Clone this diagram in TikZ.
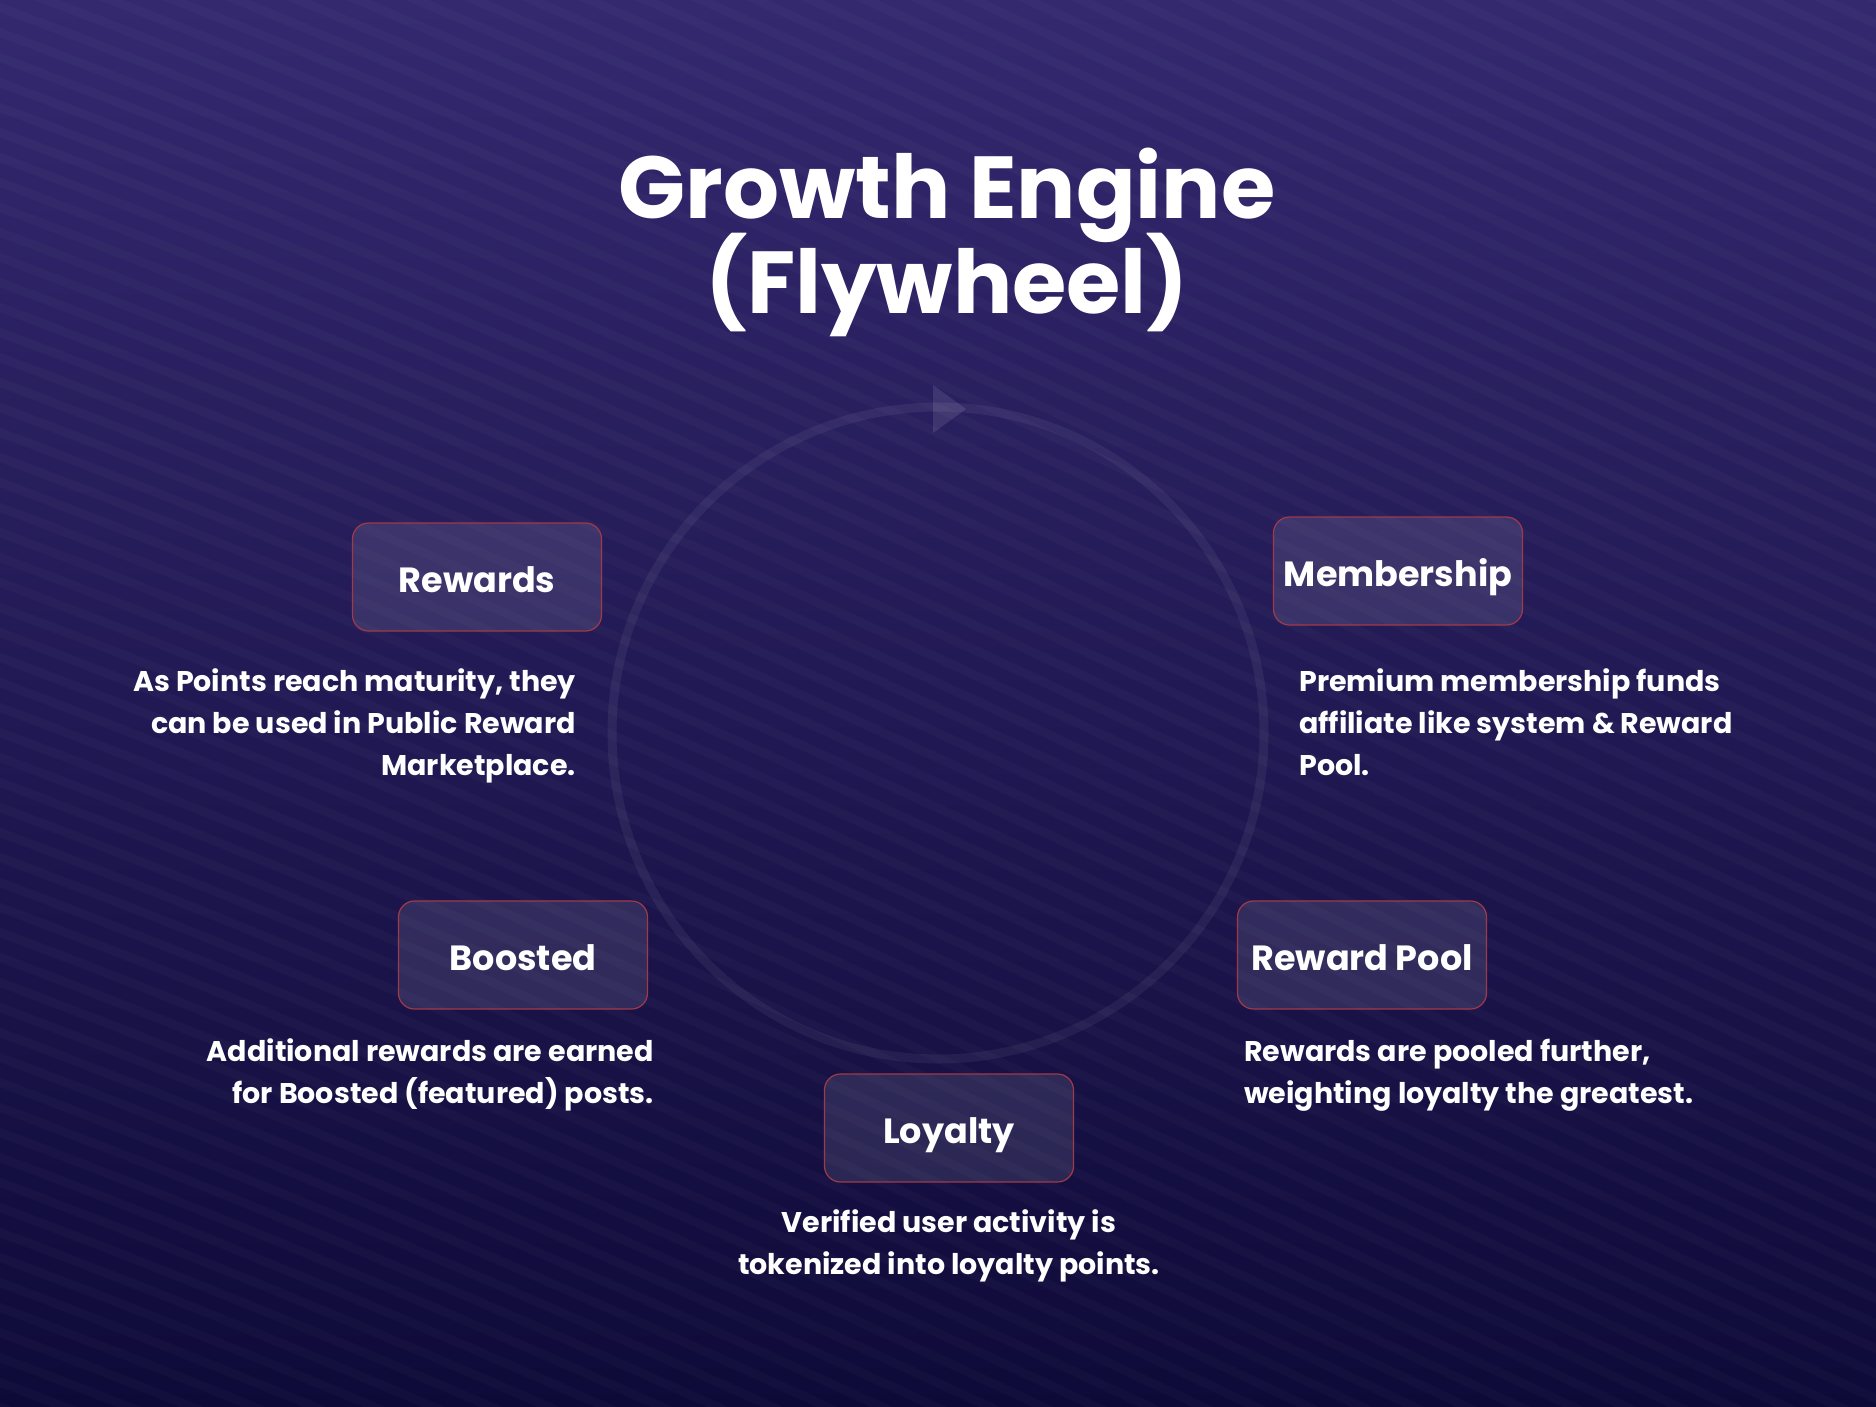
\documentclass[tikz,border=0pt]{standalone}
\usepackage{fontspec}
\setmainfont{Poppins}
\definecolor{bgtop}{HTML}{34286F}
\definecolor{bgbot}{HTML}{0E0A38}
\definecolor{boxline}{HTML}{A03A48}
\newcommand{\noskiplim}{\lineskiplimit -200pt\relax}
\begin{document}
\begin{tikzpicture}[x=1pt,y=-1pt,
  stepbox/.style={draw=boxline, line width=1.2pt, fill=white, fill opacity=0.1, text opacity=1,
    rounded corners=16pt, minimum width=249pt, minimum height=108pt, inner sep=0pt,
    text height=30pt, text depth=0pt,
    text=white, font=\fontsize{35}{42}\selectfont\bfseries},
  desc/.style={text=white, inner sep=0pt, font={\fontsize{28.5}{42}\selectfont\bfseries\noskiplim}},
  ttl/.style={text=white, inner sep=0pt, align=center, font={\fontsize{88}{95}\selectfont\bfseries\noskiplim}},
]
% background
\path[top color=bgtop, bottom color=bgbot] (0,0) rectangle (1876,1406);
\useasboundingbox (0,0) rectangle (1876,1406);
\begin{scope}
  \clip (0,0) rectangle (1876,1406);
  \foreach \i in {-36,...,58} {
    \draw[white, opacity=0.025, line width=9pt]
      (-20,\i*25) .. controls (600,\i*25+230) and (1250,\i*25+560) .. (1900,\i*25+860);
  }
\end{scope}
% flywheel ring and arrow
\draw[white, opacity=0.06, line width=9pt] (938,733) circle (326pt);
\fill[white, opacity=0.1] (933,385) -- (966,409) -- (933,433) -- cycle;
% title (anchor = baseline of last line)
\node[ttl, anchor=base] (title) at (947,313) {Growth Engine\\(Flywheel)};
% boxes
\node[stepbox] (rewards) at (477,577) {Rewards};
\node[stepbox] (membership) at (1398,571) {Membership};
\node[stepbox] (boosted) at (523,955) {Boosted};
\node[stepbox] (pool) at (1362,955) {Reward Pool};
\node[stepbox] (loyalty) at (949,1128) {Loyalty};
% descriptions (anchor = baseline of last line)
\node[desc, align=right, anchor=base east] (d1) at (576,775) {As Points reach maturity, they\\can be used in Public Reward\\Marketplace.};
\node[desc, align=left, anchor=base west] (d2) at (1299,775) {Premium membership funds\\affiliate like system \& Reward\\Pool.};
\node[desc, align=right, anchor=base east] (d3) at (654,1103) {Additional rewards are earned\\for Boosted (featured) posts.};
\node[desc, align=left, anchor=base west] (d4) at (1244,1103) {Rewards are pooled further,\\weighting loyalty the greatest.};
\node[desc, align=center, anchor=base] (d5) at (949,1274) {Verified user activity is\\tokenized into loyalty points.};
\end{tikzpicture}
\end{document}
